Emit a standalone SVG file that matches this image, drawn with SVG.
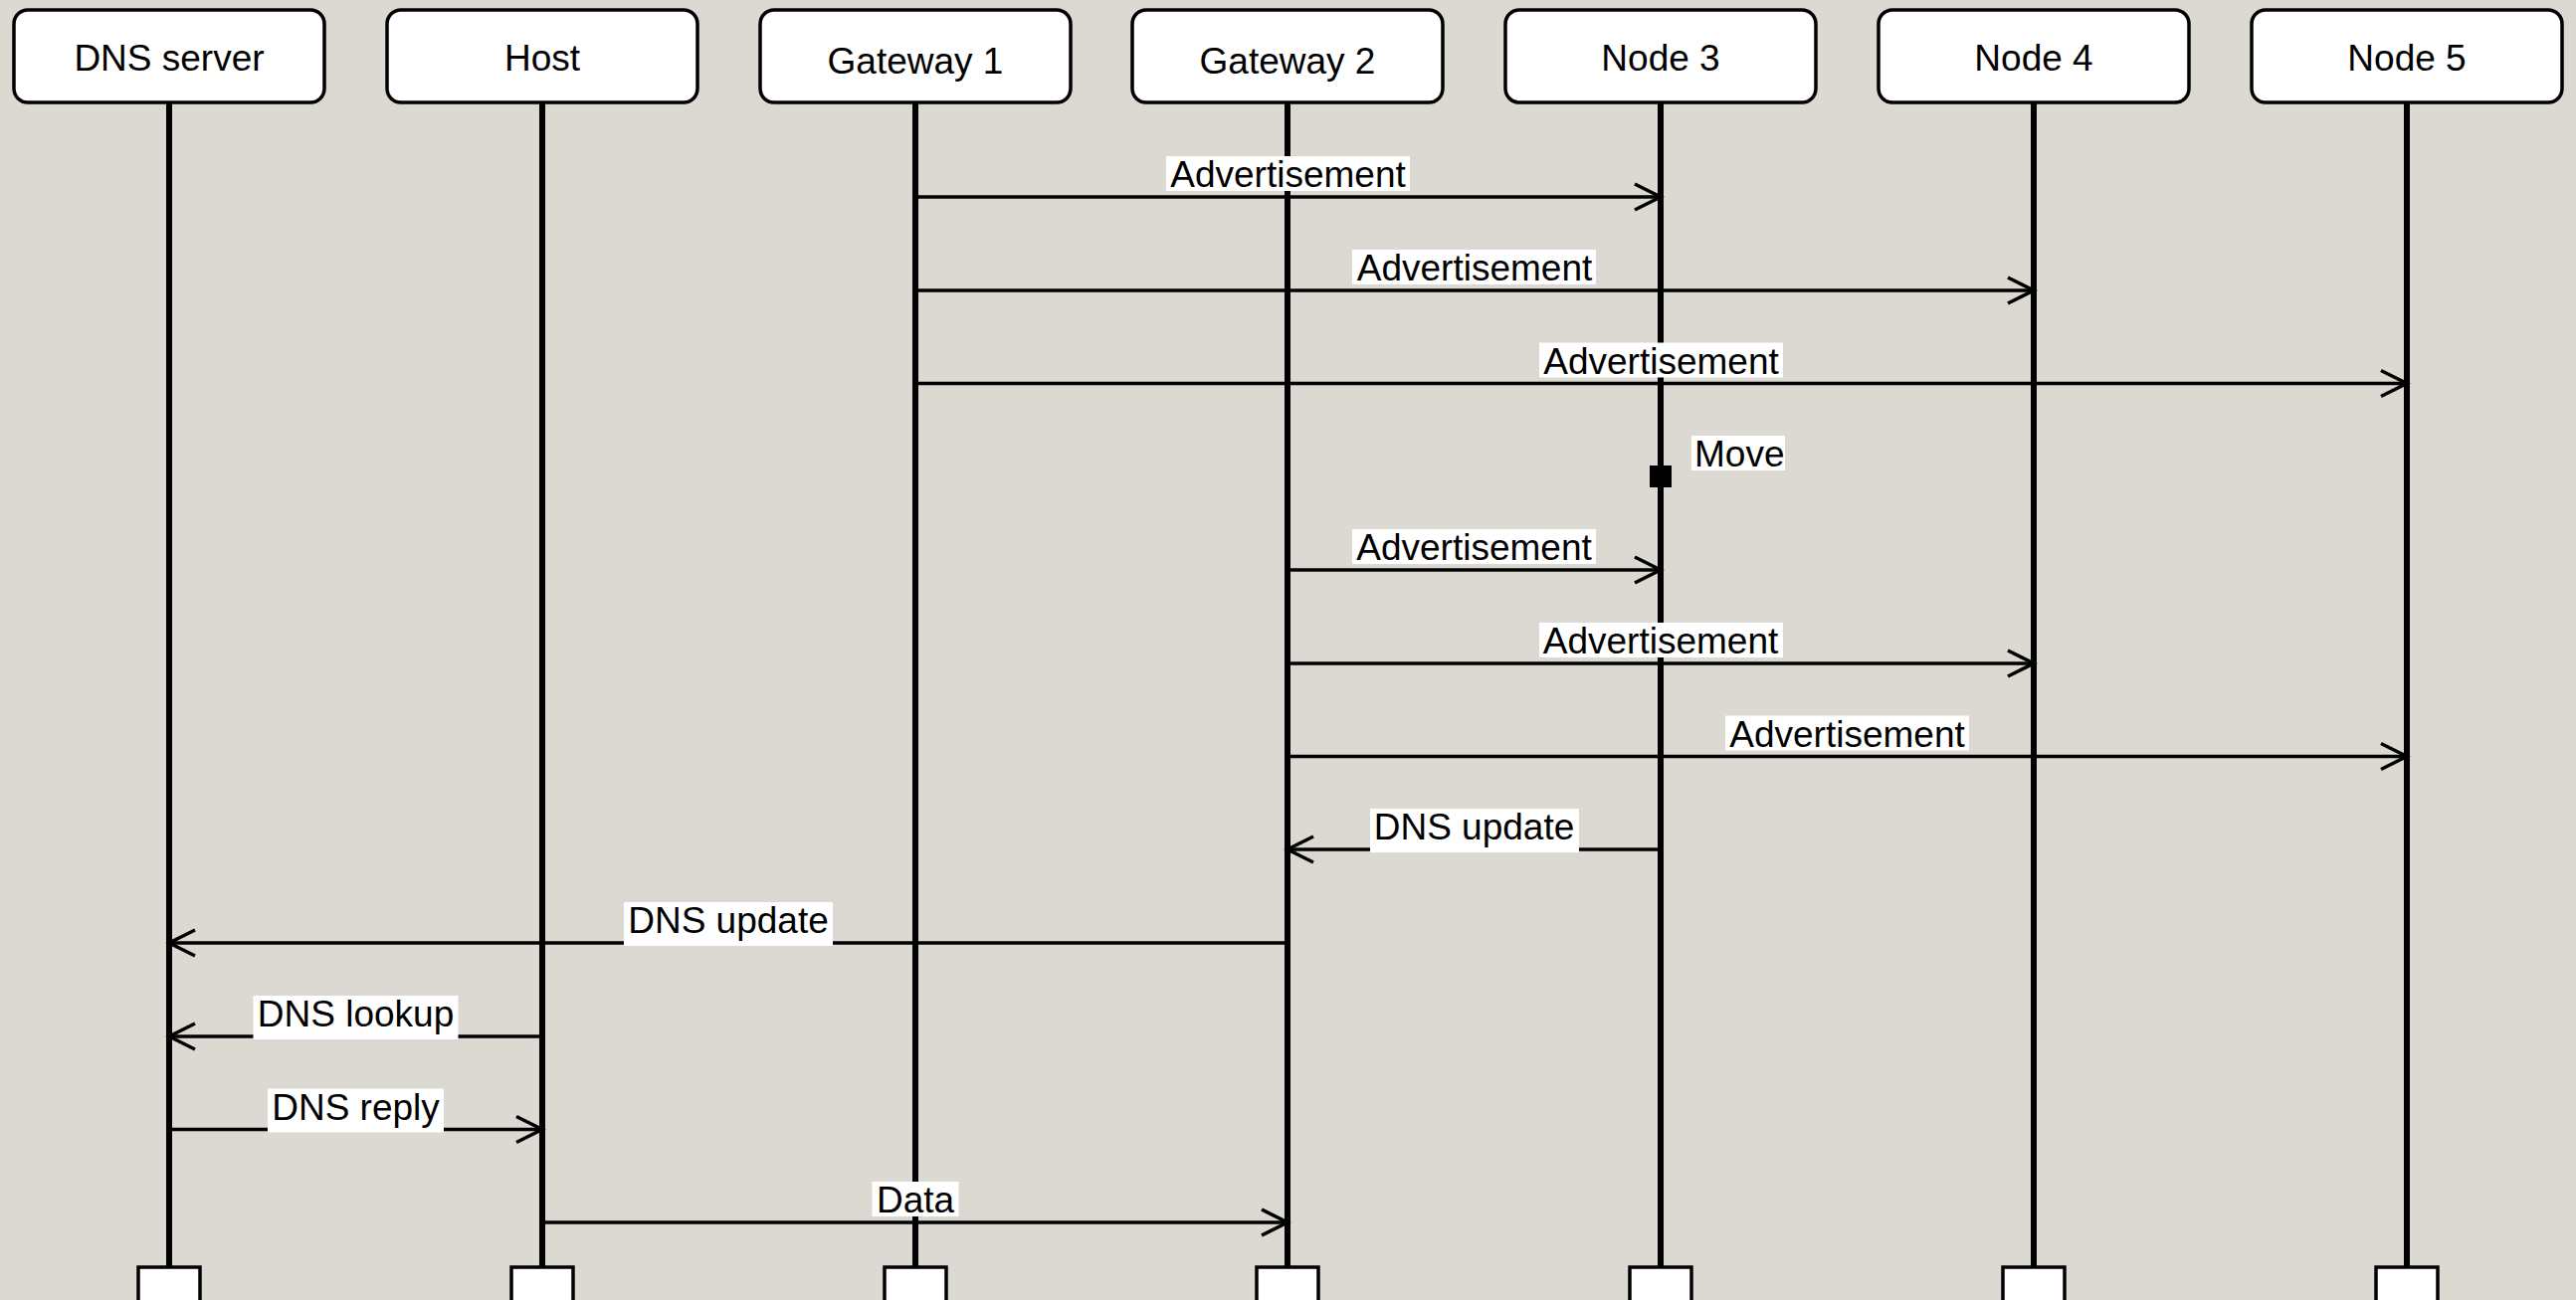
<svg xmlns="http://www.w3.org/2000/svg" width="2589" height="1307" viewBox="0 0 2589 1307">
  <defs>
    <style>
      .head { fill: #ffffff; stroke: #000000; stroke-width: 3.5; }
      .foot { fill: #ffffff; stroke: #000000; stroke-width: 3.5; }
      .life { stroke: #000000; stroke-width: 6; fill: none; }
      .msg { stroke: #000000; stroke-width: 3.5; fill: none; marker-end: url(#open); }
      .lblbg { fill: #ffffff; stroke: none; }
      .txt { font-family: "Liberation Sans", Arial, sans-serif; font-size: 37px; fill: #000000; }
      .c { text-anchor: middle; }
    </style>
    <marker id="open" viewBox="-2 -2 30 30" refX="26" refY="13" markerWidth="30" markerHeight="30" markerUnits="userSpaceOnUse" orient="auto" overflow="visible">
      <path d="M0,0 L26,13 L0,26" fill="none" stroke="#000000" stroke-width="3.5"/>
    </marker>
  </defs>

  <rect x="0" y="0" width="2589" height="1307" fill="#DCD9D2"/>

  <!-- lifelines -->
  <g id="lifelines">
    <line class="life" x1="170" y1="103" x2="170" y2="1274"/>
    <line class="life" x1="545" y1="103" x2="545" y2="1274"/>
    <line class="life" x1="920" y1="103" x2="920" y2="1274"/>
    <line class="life" x1="1294" y1="103" x2="1294" y2="1274"/>
    <line class="life" x1="1669" y1="103" x2="1669" y2="1274"/>
    <line class="life" x1="2044" y1="103" x2="2044" y2="1274"/>
    <line class="life" x1="2419" y1="103" x2="2419" y2="1274"/>
  </g>

  <!-- participants -->
  <g id="dns-server">
    <rect class="head" x="14" y="10" width="312" height="93" rx="14"/>
    <text class="txt c" x="170" y="71">DNS server</text>
    <rect class="foot" x="139" y="1274" width="62" height="40"/>
  </g>
  <g id="host">
    <rect class="head" x="389" y="10" width="312" height="93" rx="14"/>
    <text class="txt c" x="545" y="71">Host</text>
    <rect class="foot" x="514" y="1274" width="62" height="40"/>
  </g>
  <g id="gateway-1">
    <rect class="head" x="764" y="10" width="312" height="93" rx="14"/>
    <text class="txt c" x="920" y="74">Gateway 1</text>
    <rect class="foot" x="889" y="1274" width="62" height="40"/>
  </g>
  <g id="gateway-2">
    <rect class="head" x="1138" y="10" width="312" height="93" rx="14"/>
    <text class="txt c" x="1294" y="74">Gateway 2</text>
    <rect class="foot" x="1263" y="1274" width="62" height="40"/>
  </g>
  <g id="node-3">
    <rect class="head" x="1513" y="10" width="312" height="93" rx="14"/>
    <text class="txt c" x="1669" y="71">Node 3</text>
    <rect class="foot" x="1638" y="1274" width="62" height="40"/>
  </g>
  <g id="node-4">
    <rect class="head" x="1888" y="10" width="312" height="93" rx="14"/>
    <text class="txt c" x="2044" y="71">Node 4</text>
    <rect class="foot" x="2013" y="1274" width="62" height="40"/>
  </g>
  <g id="node-5">
    <rect class="head" x="2263" y="10" width="312" height="93" rx="14"/>
    <text class="txt c" x="2419" y="71">Node 5</text>
    <rect class="foot" x="2388" y="1274" width="62" height="40"/>
  </g>

  <!-- messages -->
  <g id="connectors">
    <line class="msg" x1="920" y1="198" x2="1669" y2="198"/>
    <line class="msg" x1="920" y1="292" x2="2044" y2="292"/>
    <line class="msg" x1="920" y1="385.5" x2="2419" y2="385.5"/>
    <line class="msg" x1="1294" y1="573" x2="1669" y2="573"/>
    <line class="msg" x1="1294" y1="667" x2="2044" y2="667"/>
    <line class="msg" x1="1294" y1="760.5" x2="2419" y2="760.5"/>
    <line class="msg" x1="1669" y1="854" x2="1294" y2="854"/>
    <line class="msg" x1="1294" y1="948" x2="170" y2="948"/>
    <line class="msg" x1="545" y1="1042" x2="170" y2="1042"/>
    <line class="msg" x1="170" y1="1135.5" x2="545" y2="1135.5"/>
    <line class="msg" x1="545" y1="1229" x2="1294" y2="1229"/>

    <!-- message labels -->
    <rect class="lblbg" x="1172" y="157" width="245" height="35"/>
    <text class="txt c" x="1294.5" y="188">Advertisement</text>
    <rect class="lblbg" x="1359" y="251" width="245" height="35"/>
    <text class="txt c" x="1482" y="282">Advertisement</text>
    <rect class="lblbg" x="1547" y="344.5" width="245" height="35"/>
    <text class="txt c" x="1669.5" y="375.5">Advertisement</text>
    <rect class="lblbg" x="1359" y="532" width="245" height="35"/>
    <text class="txt c" x="1481.5" y="563">Advertisement</text>
    <rect class="lblbg" x="1547" y="626" width="245" height="35"/>
    <text class="txt c" x="1669" y="657">Advertisement</text>
    <rect class="lblbg" x="1734" y="719.5" width="245" height="35"/>
    <text class="txt c" x="1856.5" y="750.5">Advertisement</text>
    <rect class="lblbg" x="1377" y="813" width="210" height="44"/>
    <text class="txt c" x="1481.5" y="844">DNS update</text>
    <rect class="lblbg" x="627" y="907" width="210" height="44"/>
    <text class="txt c" x="732" y="938">DNS update</text>
    <rect class="lblbg" x="254.5" y="1001" width="206" height="44"/>
    <text class="txt c" x="357.5" y="1032">DNS lookup</text>
    <rect class="lblbg" x="269" y="1094.5" width="177" height="44"/>
    <text class="txt c" x="357.5" y="1125.5">DNS reply</text>
    <rect class="lblbg" x="876.5" y="1188" width="87" height="35"/>
    <text class="txt c" x="920" y="1219">Data</text>
  </g>

  <!-- state change on Node 3 -->
  <g id="move">
    <rect x="1658" y="468" width="22" height="22" fill="#000000"/>
    <rect class="lblbg" x="1700" y="438" width="94" height="35"/>
    <text class="txt" x="1703" y="469">Move</text>
  </g>
</svg>
